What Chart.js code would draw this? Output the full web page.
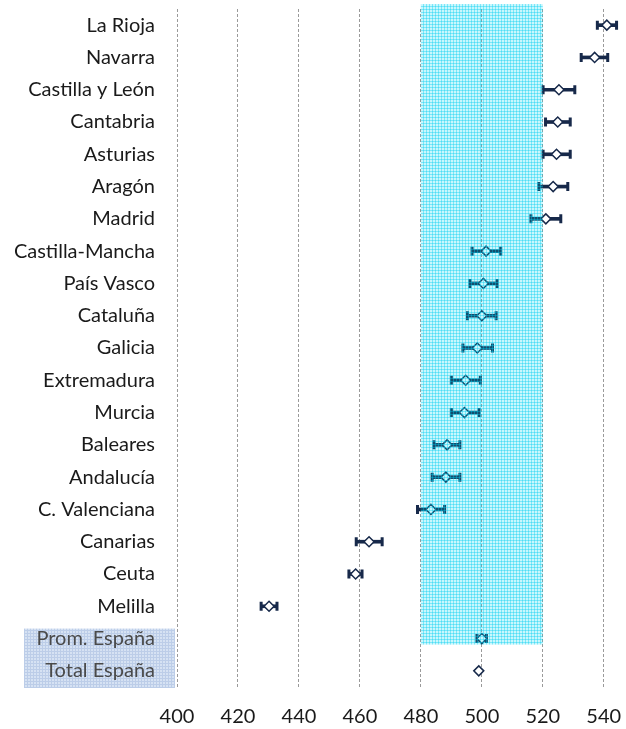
<!DOCTYPE html>
<html>
<head>
<meta charset="utf-8">
<script src="https://cdn.jsdelivr.net/npm/chart.js@4.4.1/dist/chart.umd.min.js"></script>
<style>
  html, body { margin: 0; padding: 0; background: #fff; }
  #wrap { width: 626px; height: 729px; }
</style>
</head>
<body>
<div id="wrap"><canvas id="chart"></canvas></div>
<script>
// ── Data ──────────────────────────────────────────────────────────────────────
const regions = [
  "La Rioja", "Navarra", "Castilla y León", "Cantabria", "Asturias", "Aragón",
  "Madrid", "Castilla-Mancha", "País Vasco", "Cataluña", "Galicia", "Extremadura",
  "Murcia", "Baleares", "Andalucía", "C. Valenciana", "Canarias", "Ceuta",
  "Melilla", "Prom. España", "Total España"
];
const means = [
  541.0, 537.0, 525.3, 524.9, 524.5, 523.4,
  521.0, 501.4, 500.5, 500.0, 498.5, 494.7,
  494.3, 488.6, 488.2, 483.3, 463.0, 458.6,
  430.2, 500.0, 499.0
];
const lower = [
  537.9, 532.6, 520.1, 520.9, 520.1, 518.7,
  516.1, 496.8, 496.1, 495.3, 493.8, 490.0,
  490.0, 484.3, 483.7, 478.9, 458.8, 456.4,
  427.6, 498.4, null
];
const upper = [
  544.2, 541.3, 530.5, 529.0, 529.0, 528.2,
  525.9, 506.2, 505.0, 504.7, 503.5, 499.5,
  499.1, 492.8, 492.8, 487.8, 467.3, 460.7,
  432.8, 501.5, null
];
const xTicks = [400, 420, 440, 460, 480, 500, 520, 540];
const bandRange = [480, 520];
const shadedLabels = ["Prom. España", "Total España"];

const NAVY = "#17294a";
const FONT = "Lato, 'Open Sans', sans-serif";

// ── Hatch patterns ───────────────────────────────────────────────────────────
function makeGridPattern(ctx, base, line, step) {
  const c = document.createElement("canvas");
  c.width = step; c.height = step;
  const g = c.getContext("2d");
  g.fillStyle = base;
  g.fillRect(0, 0, step, step);
  g.fillStyle = line;
  g.fillRect(0, 0, step, 1);
  g.fillRect(0, 0, 1, step);
  return ctx.createPattern(c, "repeat");
}

// shaded box behind the two summary labels
const labelBoxPlugin = {
  id: "labelBox",
  beforeDraw(chart) {
    const { ctx, scales: { y }, chartArea } = chart;
    const first = regions.indexOf(shadedLabels[0]);
    const top = y.getPixelForValue(first) - 10;
    const bottom = chartArea.bottom + 1;
    ctx.save();
    ctx.fillStyle = makeGridPattern(ctx, "#d6e2f3", "#bccde8", 3);
    ctx.fillRect(24, top, chartArea.left - 2 - 24, bottom - top);
    ctx.restore();
  }
};

// translucent cyan band between bandRange values
const bandPlugin = {
  id: "band",
  afterDatasetsDraw(chart) {
    const { ctx, scales: { x, y }, chartArea } = chart;
    const x0 = x.getPixelForValue(bandRange[0]);
    const x1 = x.getPixelForValue(bandRange[1]);
    const top = chartArea.top - 5;
    const bottom = y.getPixelForValue(regions.indexOf(shadedLabels[0])) + 6;
    ctx.save();
    ctx.fillStyle = makeGridPattern(ctx, "rgba(0,215,245,0.21)", "rgba(0,205,240,0.38)", 3);
    ctx.fillRect(x0, top, x1 - x0, bottom - top);
    ctx.restore();
  }
};

const errorBars = lower.map((l, i) => (l == null ? null : [l, upper[i]]));

new Chart(document.getElementById("chart"), {
  type: "bar",
  data: {
    labels: regions,
    datasets: [
      {
        type: "bar",
        indexAxis: "y",
        data: errorBars,
        backgroundColor: NAVY,
        borderWidth: 0,
        barThickness: 3,
        order: 3
      },
      {
        type: "line",
        indexAxis: "y",
        data: lower,
        showLine: false,
        pointStyle: "line",
        rotation: 90,
        pointRadius: 4.5,
        pointBorderWidth: 3,
        pointBorderColor: NAVY,
        order: 2
      },
      {
        type: "line",
        indexAxis: "y",
        data: upper,
        showLine: false,
        pointStyle: "line",
        rotation: 90,
        pointRadius: 4.5,
        pointBorderWidth: 3,
        pointBorderColor: NAVY,
        order: 2
      },
      {
        type: "line",
        indexAxis: "y",
        data: means,
        showLine: false,
        pointStyle: "rectRot",
        pointRadius: 5,
        pointBorderWidth: 1.5,
        pointBackgroundColor: "#ffffff",
        pointBorderColor: NAVY,
        order: 1
      }
    ]
  },
  options: {
    indexAxis: "y",
    responsive: true,
    maintainAspectRatio: false,
    animation: false,
    layout: { autoPadding: false, padding: { top: 9, right: 7, bottom: 0, left: 0 } },
    plugins: {
      legend: { display: false },
      tooltip: { enabled: false }
    },
    scales: {
      x: {
        type: "linear",
        min: 400,
        max: 545,
        afterBuildTicks: (scale) => {
          scale.ticks = xTicks.map((v) => ({ value: v }));
        },
        afterFit: (scale) => {
          // keep the plot edges where the reference has them
          scale.height = 42;
          scale.paddingLeft = 0;
          scale.paddingRight = 0;
        },
        grid: { color: "#9a9a9a", lineWidth: 1, drawTicks: false },
        border: { display: false, dash: [3, 2] },
        ticks: {
          padding: 18,
          color: "#1a1a1a",
          font: { family: FONT, size: 20 },
          maxRotation: 0
        }
      },
      y: {
        type: "category",
        afterFit: (scale) => {
          scale.width = 177;
          scale.paddingTop = 0;
          scale.paddingBottom = 0;
        },
        grid: { display: false, drawTicks: false },
        border: { display: false },
        ticks: {
          padding: 22,
          font: { family: FONT, size: 20 },
          color: (c) => (shadedLabels.includes(regions[c.index]) ? "#4a4a4a" : "#1a1a1a")
        }
      }
    }
  },
  plugins: [labelBoxPlugin, bandPlugin]
});
</script>
</body>
</html>
